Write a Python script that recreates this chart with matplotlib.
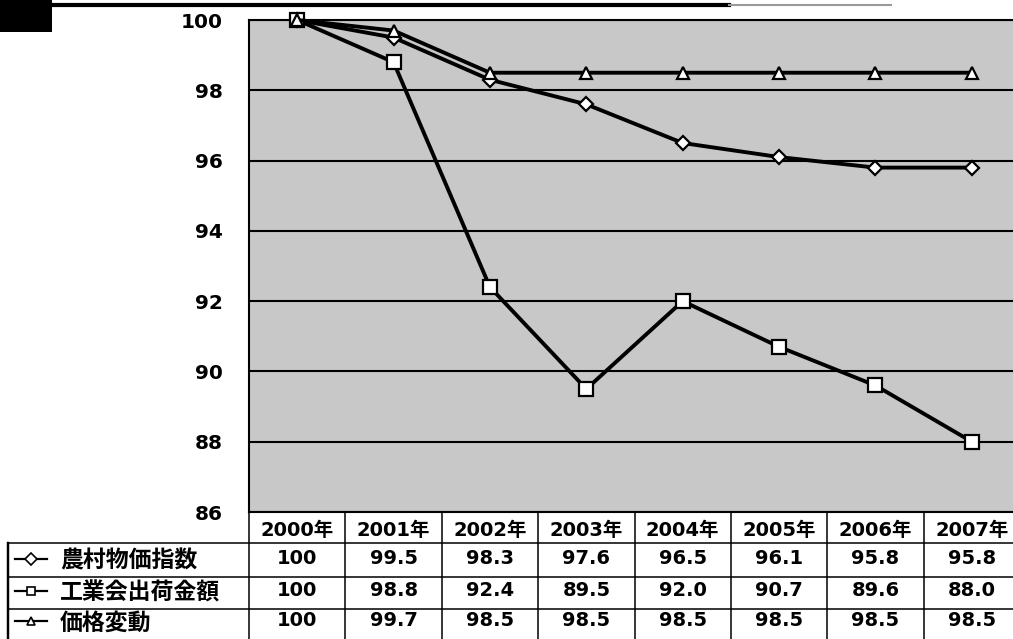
import matplotlib
matplotlib.use("Agg")
import matplotlib.pyplot as plt
import matplotlib.transforms as mtransforms
from matplotlib.lines import Line2D
from matplotlib.patches import Rectangle

plt.rcParams['font.family'] = ['DejaVu Sans', 'Noto Sans CJK JP']

# ── DATA ──────────────────────────────────────────────────
years = ['2000年', '2001年', '2002年', '2003年', '2004年', '2005年', '2006年', '2007年']
series_names = ['農村物価指数', '工業会出荷金額', '価格変動']
farm_index = [100, 99.5, 98.3, 97.6, 96.5, 96.1, 95.8, 95.8]
shipments = [100, 98.8, 92.4, 89.5, 92.0, 90.7, 89.6, 88.0]
price_change = [100, 99.7, 98.5, 98.5, 98.5, 98.5, 98.5, 98.5]
table_text = [
    ['100', '99.5', '98.3', '97.6', '96.5', '96.1', '95.8', '95.8'],
    ['100', '98.8', '92.4', '89.5', '92.0', '90.7', '89.6', '88.0'],
    ['100', '99.7', '98.5', '98.5', '98.5', '98.5', '98.5', '98.5'],
]
y_ticks = [86, 88, 90, 92, 94, 96, 98, 100]

W, H = 1013, 639
fig = plt.figure(figsize=(W / 100, H / 100), dpi=100)
fig.patch.set_facecolor('white')

# plot area in pixels: left 249, right 1020 (past the edge), top 20, bottom 512
left, right, top, bottom = 249, 1020, 20, 512
ax = fig.add_axes([left / W, 1 - bottom / H, (right - left) / W, (bottom - top) / H])
ax.set_facecolor('#c8c8c8')

x = list(range(len(years)))
markers = ['D', 's', '^']
msizes = [7, 9.5, 8.5]
for vals, m, ms in zip([farm_index, shipments, price_change], markers, msizes):
    ax.plot(x, vals, color='black', linewidth=2.8, marker=m, markersize=ms,
            markerfacecolor='white', markeredgecolor='black', markeredgewidth=1.6,
            clip_on=False, zorder=3)

ax.set_xlim(-0.5, 7.5)
ax.set_ylim(86, 100)
ax.set_yticks(y_ticks)
ax.set_yticklabels([str(t) for t in y_ticks], fontsize=14.5, fontweight='bold')
ax.tick_params(axis='y', length=0, pad=19)
ax.set_xticks([])
ax.yaxis.grid(True, color='black', linewidth=1.5)
ax.set_axisbelow(True)
for s in ax.spines.values():
    s.set_linewidth(1.5)
    s.set_color('black')

# ── DATA TABLE BELOW ───────────────────────────────────────
trans = mtransforms.blended_transform_factory(ax.transData, ax.transAxes)
ph = bottom - top
to_ax = lambda py: (bottom - py) / ph
row_edges = [to_ax(r) for r in [512, 543, 577, 609, 645]]
header_y = to_ax(530)
row_px = [559, 591, 621]
px2x = 8 / (right - left)  # data units per pixel
label_left = (8 - left) * px2x - 0.5  # table's left border in data units

lw = 1.1
# horizontal lines
for ye in row_edges[1:]:
    ax.add_line(Line2D([label_left, 7.5], [ye, ye], transform=trans, color='black',
                       linewidth=lw, clip_on=False))
# vertical lines
for k in range(9):
    xv = k - 0.5
    ax.add_line(Line2D([xv, xv], [row_edges[0], row_edges[-1]], transform=trans,
                       color='black', linewidth=lw, clip_on=False))
ax.add_line(Line2D([label_left, label_left], [row_edges[1], row_edges[-1]], transform=trans,
                   color='black', linewidth=lw * 1.6, clip_on=False))

# header
for i, yl in enumerate(years):
    ax.text(i, header_y, yl, transform=trans,
            ha='center', va='center', fontsize=14, fontweight='bold', clip_on=False)

# rows
key_x0 = label_left + 7 * px2x
for r, (name, m) in enumerate(zip(series_names, markers)):
    yc = to_ax(row_px[r])
    ax.add_line(Line2D([key_x0, key_x0 + 32 * px2x], [yc, yc], transform=trans, color='black',
                       linewidth=1.6, clip_on=False))
    ax.add_line(Line2D([key_x0 + 16 * px2x], [yc], transform=trans, marker=m, markersize=6,
                       markerfacecolor='white', markeredgecolor='black', markeredgewidth=1.2,
                       clip_on=False))
    ax.text(key_x0 + 45 * px2x, to_ax(row_px[r] + 2), name, transform=trans, ha='left',
            va='center', fontsize=16.5, fontweight='bold', clip_on=False)
    for i, t in enumerate(table_text[r]):
        ax.text(i, yc, t, transform=trans, ha='center', va='center',
                fontsize=14, fontweight='bold', clip_on=False)

# scan artefacts at the top edge
fig.add_artist(Line2D([0, 0.72], [1 - 5 / H, 1 - 5 / H], transform=fig.transFigure,
                      color='black', linewidth=3))
fig.add_artist(Line2D([0.72, 0.88], [1 - 5 / H, 1 - 5 / H], transform=fig.transFigure,
                      color='#999999', linewidth=1.5))
fig.add_artist(Rectangle((0, 1 - 32 / H), 52 / W, 32 / H, transform=fig.transFigure,
                         facecolor='black', edgecolor='none'))

fig.savefig('out.png', dpi=100)
